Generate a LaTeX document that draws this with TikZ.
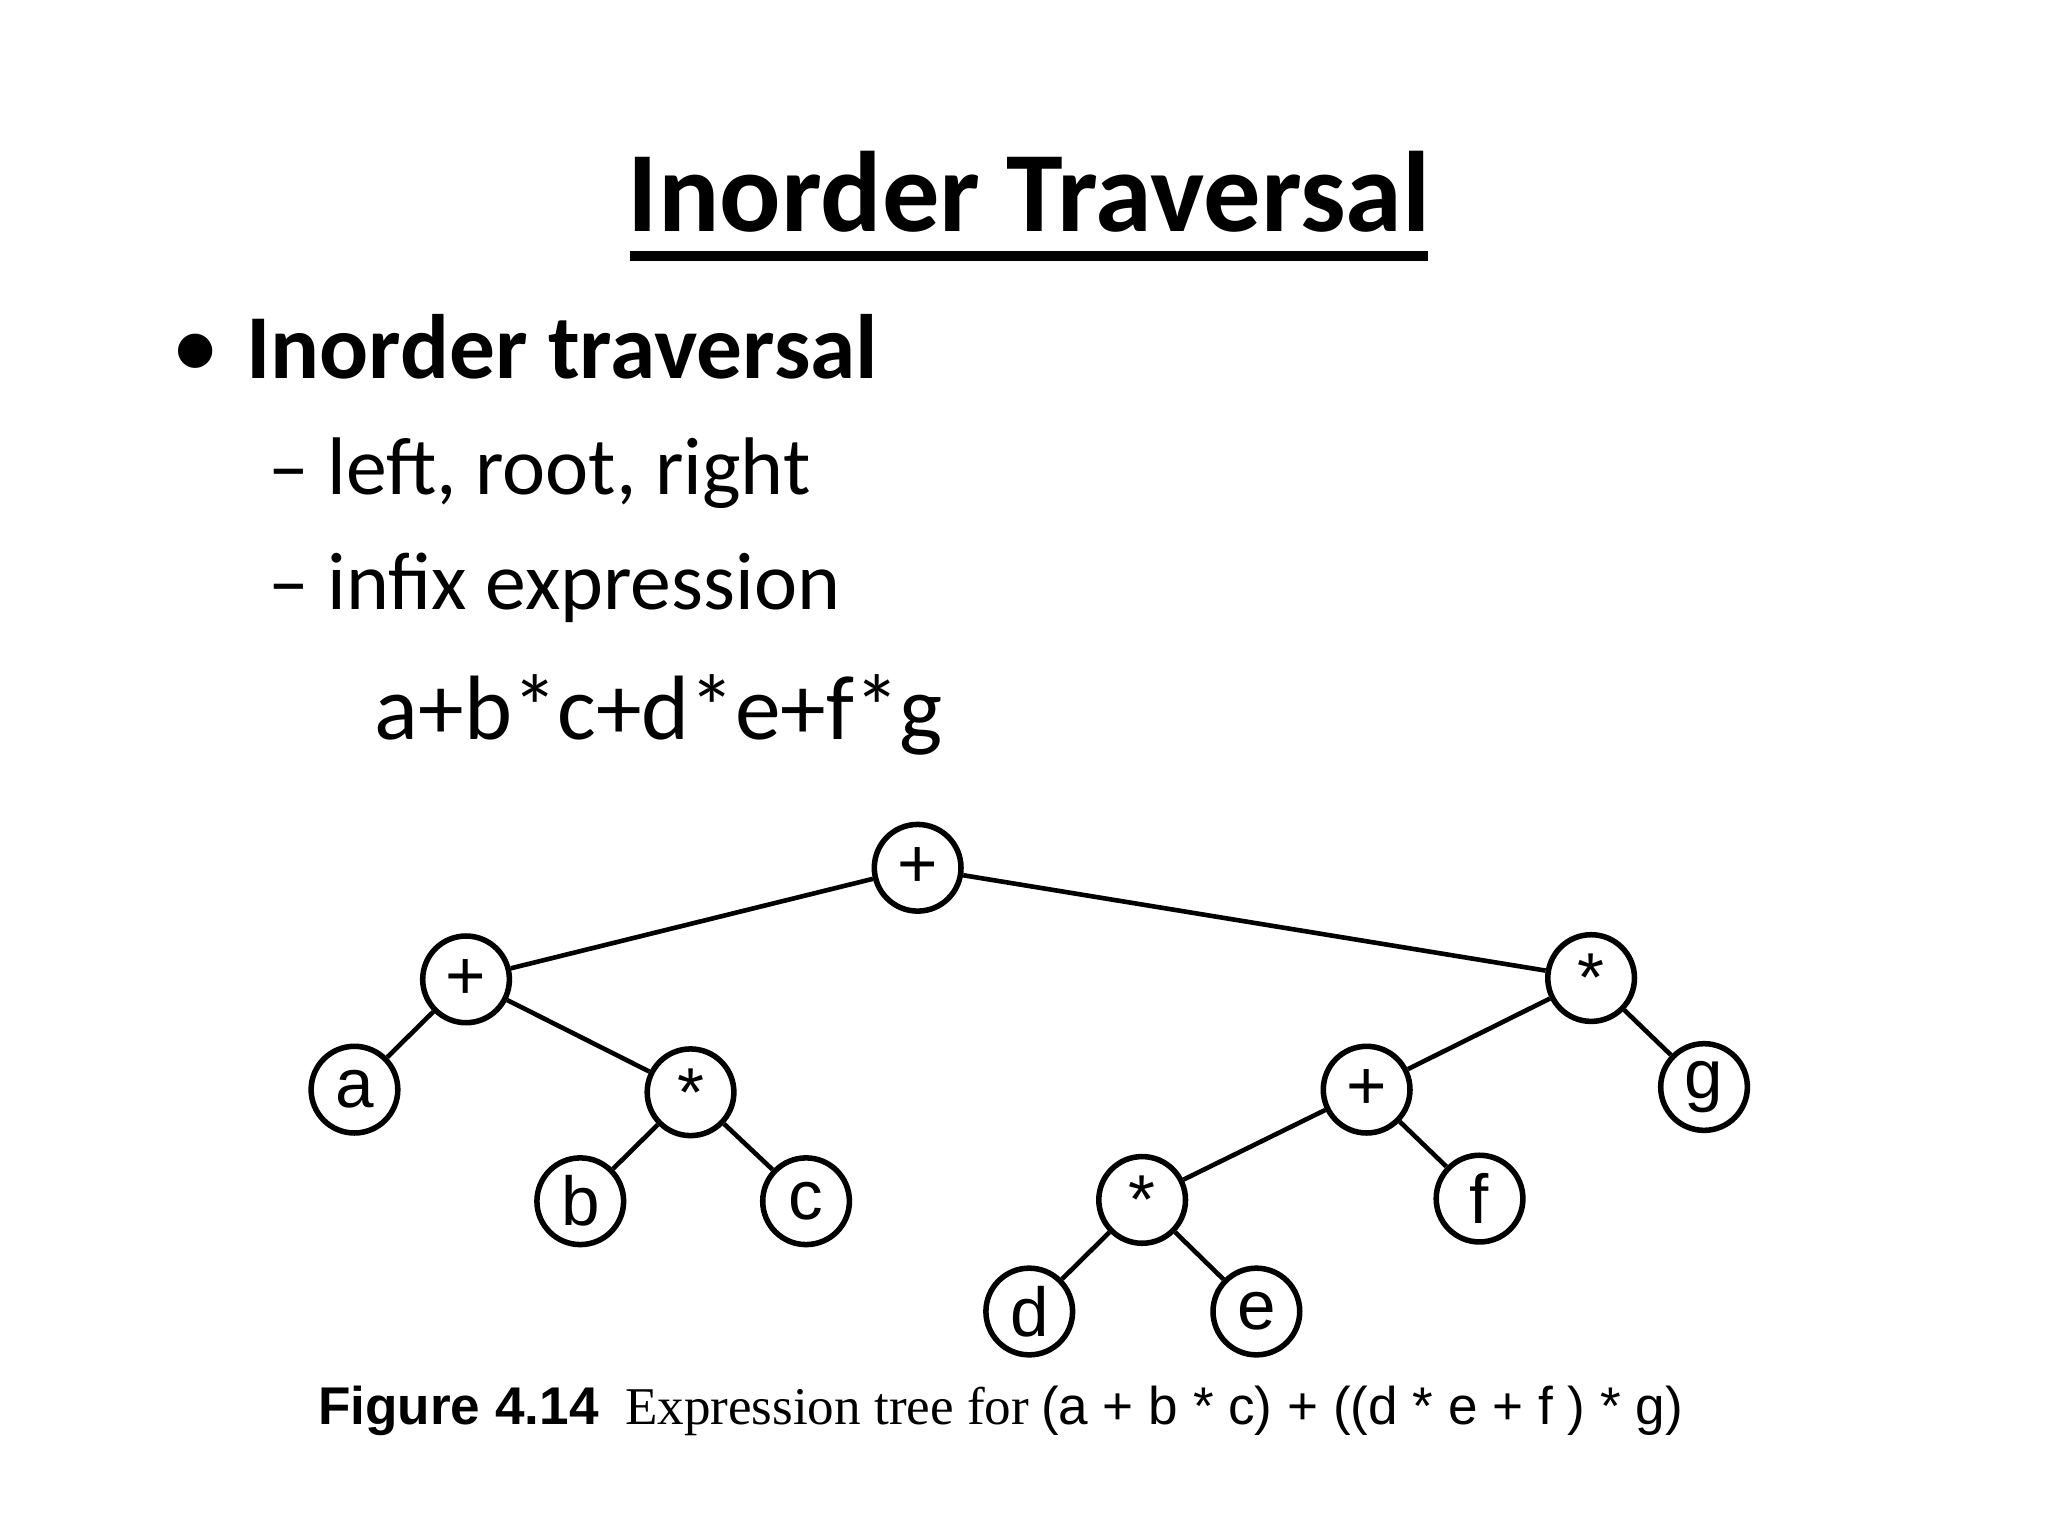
\documentclass[tikz,border=0pt]{standalone}
\usepackage{fontspec}
\setmainfont{Carlito}
\newfontfamily\capserif{Liberation Serif}
\newfontfamily\capsans{Liberation Sans}
\begin{document}
\begin{tikzpicture}[x=0.01cm,y=-0.01cm,
  tn/.style={circle,draw,line width=1.2pt,minimum size=0.66cm,inner sep=0pt,font=\capsans\fontsize{15}{15}\selectfont},
  ed/.style={line width=1pt}]
\useasboundingbox (0,0) rectangle (1560,1170);
\node[anchor=base,font=\bfseries\fontsize{24.8}{24.8}\selectfont] (title) at (784,176) {Inorder Traversal};
\draw[line width=2pt] (480,195) -- (1088,195);
\node[anchor=base west,font=\fontsize{21}{21}\selectfont] (bul) at (118,288) {•};
\node[anchor=base west,font=\bfseries\fontsize{19.8}{19.8}\selectfont] (b1) at (175,288) {Inorder traversal};
\node[anchor=base west,font=\fontsize{17.7}{17.7}\selectfont] (s1) at (192,377) {– left, root, right};
\node[anchor=base west,font=\fontsize{17.7}{17.7}\selectfont] (s2) at (192,464) {– infix expression};
\node[anchor=base west,font=\fontsize{19.8}{19.8}\selectfont] (ex) at (273,563) {a+b*c+d*e+f*g};
\node[tn] (r) at (699,661) {+};
\node[tn] (p1) at (355,746) {+};
\node[tn] (m1) at (1212,745) {*};
\node[tn] (a) at (270,830) {a};
\node[tn] (m2) at (526,832) {*};
\node[tn] (p2) at (1041,830) {+};
\node[tn] (g) at (1298,828) {g};
\node[tn] (b) at (442,915) {b};
\node[tn] (c) at (614,915) {c};
\node[tn] (m3) at (870,914) {*};
\node[tn] (f) at (1127,913) {f};
\node[tn] (d) at (784,999) {d};
\node[tn] (e) at (957,999) {e};
\foreach \u/\v in {r/p1,r/m1,p1/a,p1/m2,m2/b,m2/c,m1/p2,m1/g,p2/m3,p2/f,m3/d,m3/e}
  \draw[ed] (\u) -- (\v);
\node[anchor=base west,font=\fontsize{11.5}{11.5}\selectfont] (cap) at (230,1085)
 {{\capsans\bfseries Figure 4.14}\hspace{0.5em}{\capserif Expression tree for} {\capsans (a + b * c) + ((d * e + f ) * g)}};
\end{tikzpicture}
\end{document}
